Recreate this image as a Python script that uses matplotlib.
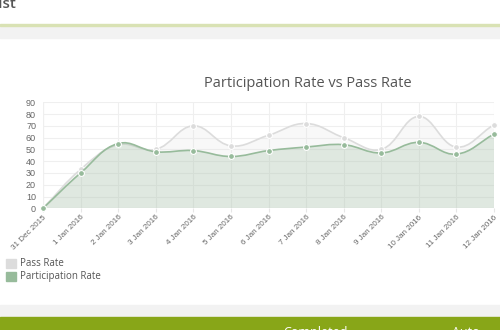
import matplotlib
matplotlib.use("Agg")
import matplotlib.pyplot as plt
from matplotlib.path import Path
from matplotlib.patches import PathPatch, Rectangle
import numpy as np

# data
dates = ["31 Dec 2015", "1 Jan 2016", "2 Jan 2016", "3 Jan 2016", "4 Jan 2016",
         "5 Jan 2016", "6 Jan 2016", "7 Jan 2016", "8 Jan 2016", "9 Jan 2016",
         "10 Jan 2016", "11 Jan 2016", "12 Jan 2016"]
pass_rate = [0, 33, 54, 50, 70, 53, 62, 72, 60, 50, 78, 52, 71]
participation_rate = [0, 30, 55, 48, 49, 44, 49, 52, 54, 47, 56, 46, 63]
y_ticks = [0, 10, 20, 30, 40, 50, 60, 70, 80, 90]

pass_line = "#dcdcdc"
pass_fill = (220/255, 220/255, 220/255, 0.2)
part_line = "#97bb9b"
part_fill = (151/255, 187/255, 155/255, 0.25)

fig = plt.figure(figsize=(5, 3.3), dpi=100)
W, H = 500, 330

# page chrome around the chart
fig.patches.append(Rectangle((0, 1 - 38/H), 1, 13/H, transform=fig.transFigure,
                             color="#f2f2f2", zorder=0))
fig.patches.append(Rectangle((0, 1 - 25.5/H), 1, 1.5/H, transform=fig.transFigure,
                             color="#d9e2b4", zorder=1))
fig.patches.append(Rectangle((0, 13/H), 1, 12/H, transform=fig.transFigure,
                             color="#f2f2f2", zorder=0))
fig.patches.append(Rectangle((0, 0), 1, 13/H, transform=fig.transFigure,
                             color="#88a618", zorder=0))
fig.text(16/W, 1 - 8/H, "List", ha="right", va="baseline", fontsize=11,
         family="Open Sans", weight="semibold", color="#555555")
fig.text(283/W, 1 - 336/H, "Completed", ha="left", va="baseline", fontsize=9,
         family="Open Sans", color="white")
fig.text(452/W, 1 - 336/H, "Auto", ha="left", va="baseline", fontsize=9,
         family="Open Sans", color="white")

fig.text(308/W, 1 - 87/H, "Participation Rate vs Pass Rate", ha="center",
         va="baseline", fontsize=10.5, family="Open Sans", color="#555555")

ax = fig.add_axes([43/W, 1 - 208.3/H, 451/W, 106/H])
ax.set_xlim(0, len(dates) - 1)
ax.set_ylim(0, 90)
ax.set_facecolor("none")
for s in ax.spines.values():
    s.set_visible(False)
ax.set_xticks(range(len(dates)))
ax.set_xticklabels(dates, rotation=45, ha="right", va="top", rotation_mode="anchor",
                   fontsize=5.8, family="Liberation Sans", color="#666666")
ax.set_yticks(y_ticks)
ax.set_yticklabels([str(v) for v in y_ticks], fontsize=6.5,
                   family="Liberation Sans", color="#666666")
ax.tick_params(axis="x", length=3, color="#e6e6e6", pad=1)
ax.tick_params(axis="y", length=0, pad=5)
ax.grid(True, color="#efefef", lw=0.8)
ax.axhline(0, color="#e2e2e2", lw=0.8, zorder=1)
ax.axvline(0, color="#e2e2e2", lw=0.8, zorder=1)


def smooth_path(vals, tension=0.4):
    # chart.js style bezier through the points, computed in pixel space
    xs = np.arange(len(vals))
    pts = ax.transData.transform(np.column_stack([xs, vals]))
    verts = [pts[0]]
    codes = [Path.MOVETO]
    n = len(pts)
    ctrl = []
    for i in range(n):
        prev = pts[max(i - 1, 0)]
        nxt = pts[min(i + 1, n - 1)]
        cur = pts[i]
        d01 = np.hypot(*(cur - prev))
        d12 = np.hypot(*(nxt - cur))
        tot = d01 + d12
        fa = tension * d01 / tot if tot else 0
        fb = tension * d12 / tot if tot else 0
        ctrl.append((cur - fa * (nxt - prev), cur + fb * (nxt - prev)))
    lo = ax.transData.transform((0, 0))[1]
    hi = ax.transData.transform((0, 90))[1]
    for i in range(1, n):
        c1 = ctrl[i - 1][1].copy()
        c2 = ctrl[i][0].copy()
        c1[1] = np.clip(c1[1], lo, hi)
        c2[1] = np.clip(c2[1], lo, hi)
        verts += [c1, c2, pts[i]]
        codes += [Path.CURVE4] * 3
    inv = ax.transData.inverted()
    return inv.transform(np.array(verts)), codes


for vals, lc, fc, z in [(pass_rate, pass_line, pass_fill, 2),
                        (participation_rate, part_line, part_fill, 3)]:
    v, c = smooth_path(vals)
    fv = np.vstack([v, [[len(vals) - 1, 0], [0, 0], [0, 0]]])
    fcodes = c + [Path.LINETO, Path.LINETO, Path.CLOSEPOLY]
    ax.add_patch(PathPatch(Path(fv, fcodes), facecolor=fc, edgecolor="none", zorder=z))
    ax.add_patch(PathPatch(Path(v, c), facecolor="none", edgecolor=lc, lw=1.2,
                           zorder=z + 0.1))
    ax.plot(range(len(vals)), vals, "o", ms=4.2, mfc=lc, mec="white", mew=0.8,
            zorder=z + 0.2, clip_on=False)

# legend
for i, (name, col) in enumerate([("Pass Rate", pass_line),
                                 ("Participation Rate", part_line)]):
    y0 = 259 + i * 13
    fig.patches.append(Rectangle((6/W, 1 - (y0 + 8.5)/H), 10/W, 8.5/H,
                                 transform=fig.transFigure, color=col))
    fig.text(20/W, 1 - (y0 + 7.5)/H, name, ha="left", va="baseline", fontsize=7,
             family="Open Sans", color="#555555")

fig.savefig("out.png", dpi=100)
